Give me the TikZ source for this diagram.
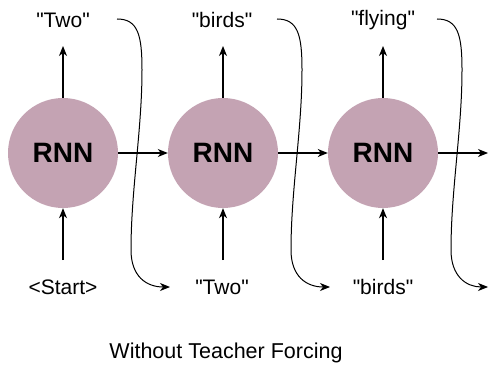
\documentclass[tikz,border=0pt]{standalone}
\usepackage{fontspec}
\setmainfont{Liberation Sans}
\usetikzlibrary{arrows.meta}
\definecolor{rnnfill}{RGB}{196,163,179}
\newcommand{\qq}[1]{\textquotedbl#1\textquotedbl}
\begin{document}
\begin{tikzpicture}[x=1pt,y=-1pt,
  rnn/.style={circle,fill=rnnfill,minimum size=110pt,inner sep=0pt,
    font=\fontsize{28}{32}\selectfont\bfseries},
  word/.style={inner sep=0pt,font=\fontsize{21}{25}\selectfont},
  arr/.style={line width=1.2pt,-{Stealth[length=10pt,width=8pt,inset=3pt]}},
  feed/.style={line width=1pt,-{Stealth[length=10pt,width=8pt,inset=3pt]}}]
\useasboundingbox (0,0) rectangle (489,366);

% recurrent cells
\node[rnn] (c1) at (63,153) {RNN};
\node[rnn] (c2) at (223,153) {RNN};
\node[rnn] (c3) at (383,153) {RNN};

% predicted outputs
\node[word] (t1) at (63,20) {\qq{Two}};
\node[word] (t2) at (222,20) {\qq{birds}};
\node[word] (t3) at (383,20) {\qq{flying}};

% inputs
\node[word] (b1) at (63,287) {<Start>};
\node[word] (b2) at (222,287) {\qq{Two}};
\node[word] (b3) at (383,287) {\qq{birds}};

% arrow end points
\coordinate (o1) at (63,46);
\coordinate (o2) at (223,46);
\coordinate (o3) at (383,46);
\coordinate (i1) at (63,260);
\coordinate (i2) at (223,260);
\coordinate (i3) at (383,260);
\coordinate (h3) at (488,153);

\draw[arr] (c1.north) -- (o1);
\draw[arr] (c2.north) -- (o2);
\draw[arr] (c3.north) -- (o3);
\draw[arr] (i1) -- (c1.south);
\draw[arr] (i2) -- (c2.south);
\draw[arr] (i3) -- (c3.south);
\draw[arr] (c1.east) -- (c2.west);
\draw[arr] (c2.east) -- (c3.west);
\draw[arr] (c3.east) -- (h3);

% each output is fed back as the next input
\foreach \i/\dx in {1/0,2/160,3/320}{
  \coordinate (s\i) at (117+\dx,19);
  \coordinate (e\i) at ({min(170+\dx,488)},287);
  \draw[feed] (s\i) .. controls (138+\dx,19) and (142+\dx,35) .. (142+\dx,70)
    .. controls (142+\dx,130) and (131+\dx,190) .. (131+\dx,250)
    .. controls (131+\dx,276) and (146+\dx,287) .. (e\i);
}

\node[word,font=\fontsize{21.5}{25}\selectfont] (title) at (226,353) {Without Teacher Forcing};
\end{tikzpicture}
\end{document}
